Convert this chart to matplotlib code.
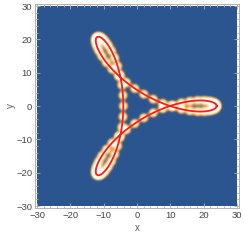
import numpy as np
import matplotlib
matplotlib.use("Agg")
import matplotlib.pyplot as plt
from matplotlib.colors import LinearSegmentedColormap

# curve z(t) = a*e^{it} + b*e^{-2it}, coefficients
# (loop tips at ~24, crossings at ~10, inner sides at ~4)
amp_fwd = 14.0
amp_back = 9.9
n_blobs = 66          # glow spots along the curve (equal steps in t)
blob_sigma = 0.78

x_range = [-30, 30]
y_range = [-30, 30]
major_ticks = [-30, -20, -10, 0, 10, 20, 30]
minor_ticks = list(range(-30, 31, 2))

plt.rcParams['font.family'] = ['Liberation Sans', 'DejaVu Sans']

# glow spots
tk = np.linspace(0, 2 * np.pi, n_blobs, endpoint=False)
zk = amp_fwd * np.exp(1j * tk) + amp_back * np.exp(-2j * tk)

gx = np.linspace(x_range[0], x_range[1], 500)
gy = np.linspace(y_range[0], y_range[1], 500)
X, Y = np.meshgrid(gx, gy)
dens = np.zeros_like(X)
for z in zk:
    dens += np.exp(-((X - z.real) ** 2 + (Y - z.imag) ** 2) / (2 * blob_sigma ** 2))

cmap = LinearSegmentedColormap.from_list("m10", [
    (0.0, "#2b5590"),
    (0.1, "#36598b"),
    (0.2, "#86817a"),
    (0.32, "#dea55c"),
    (0.48, "#f6cf8c"),
    (0.68, "#fff0cf"),
    (1.0, "#fffdf6"),
])

# the curve itself
t = np.linspace(0, 2 * np.pi, 1000)
zc = amp_fwd * np.exp(1j * t) + amp_back * np.exp(-2j * t)

fig = plt.figure(figsize=(2.44, 2.40), dpi=100)
ax = fig.add_axes([35 / 244, 31.3 / 240, 204 / 244, 205.4 / 240])
ax.imshow(dens, extent=[x_range[0], x_range[1], y_range[0], y_range[1]],
          origin="lower", cmap=cmap, vmin=0, vmax=1.0, interpolation="bilinear")
ax.plot(zc.real, zc.imag, color="#ff1a1a", lw=1.3)

ax.set_xlim(-30.6, 30.6)
ax.set_ylim(-30.6, 30.6)
ax.set_xticks(major_ticks)
ax.set_yticks(major_ticks)
ax.set_xticks(minor_ticks, minor=True)
ax.set_yticks(minor_ticks, minor=True)
ax.tick_params(which="both", direction="in", top=True, right=True,
               color="#b0b0b0", width=0.6, labelsize=6.8, labelcolor="#444444", pad=2)
ax.tick_params(which="major", length=3.5)
ax.tick_params(which="minor", length=1.8)
for s in ax.spines.values():
    s.set_color("#b0b0b0")
    s.set_linewidth(0.7)
ax.set_xlabel("x", fontsize=7, color="#555555", labelpad=2)
ax.set_ylabel("y", fontsize=7, color="#555555", labelpad=0)

fig.savefig("out.png", dpi=100)
